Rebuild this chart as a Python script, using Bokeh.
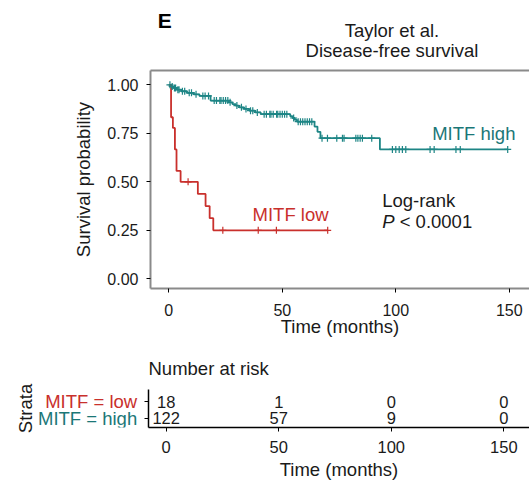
import numpy as np
from bokeh.plotting import figure
from bokeh.layouts import column, row
from bokeh.models import Range1d, LinearAxis, FixedTicker
from bokeh.core.properties import value
from bokeh.embed import file_html
from bokeh.resources import INLINE

# ---------------- data ----------------
low_time = [0, 1.0, 1.8, 2.7, 3.4, 5.2, 12.8, 16.2, 18.0, 19.6, 70.0]
low_surv = [1.0, 0.833, 0.778, 0.667, 0.556, 0.5, 0.4375, 0.375, 0.3125, 0.25, 0.25]
low_censor = [8.5, 23.8, 39.4, 47.4, 70.0]

high_time = [0, 1.0, 2.0, 3.5, 5.5, 8.0, 11.0, 13.5, 18.4, 26.5, 28.0, 29.5, 31.0,
             33.0, 35.5, 38.0, 40.5, 53.5, 54.5, 55.5, 56.5, 64.2, 65.5, 66.8, 93.0, 149.3]
high_surv = [1.0, 0.992, 0.984, 0.975, 0.967, 0.959, 0.951, 0.943, 0.919, 0.910, 0.901,
             0.893, 0.884, 0.876, 0.867, 0.858, 0.849, 0.838, 0.829, 0.820, 0.810, 0.785,
             0.758, 0.725, 0.667, 0.667]
high_censor = [0.5, 1.5, 2.5, 3, 4, 4.5, 6, 7, 9, 10, 12, 15, 16, 17.5, 20, 21, 22.5, 23,
               24, 25, 26, 27, 30, 32, 34, 36, 37, 39, 42, 43, 44.5, 45, 46, 47.5, 48, 49,
               50, 51, 52, 55, 57, 58, 59, 60, 61, 62, 63, 67.5, 69.9, 74, 76.5, 77.2,
               82.4, 83.3, 84.3, 85.3, 89.4, 98.5, 100, 101.5, 102.9, 104.4, 115.1, 116.9,
               126.5, 128.4, 149.3]

x_ticks = [0, 50, 100, 150]
y_ticks = [0.0, 0.25, 0.5, 0.75, 1.0]
y_tick_labels = ["0.00", "0.25", "0.50", "0.75", "1.00"]

risk_times = [0, 50, 100, 150]
risk_low = [18, 1, 0, 0]
risk_high = [122, 57, 9, 0]
strata_names = ["MITF = low", "MITF = high"]
strata_rows = [2, 1]

RED = "#C9302C"
TEAL = "#1D8585"
TEAL_TXT = "#1B7777"
FONT = "Liberation Sans"
TXT = "#1a1a1a"
BORDER = "#8a8a8a"
BIG = "18.5px"


def surv_at(times, surv, t):
    idx = np.searchsorted(np.array(times), np.array(t), side="right") - 1
    return np.array(surv)[idx]


def txt(p, x, y, text, color=TXT, size=BIG, align="left", style="normal",
        baseline="middle", angle=0.0):
    p.text([x], [y], text=[text], text_color=color, text_font=value(FONT),
           text_font_size=size, text_align=align, text_font_style=style,
           text_baseline=baseline, angle=angle)


def style_axis(ax, line_color, line_width, tick_size):
    ax.axis_line_color = line_color
    ax.axis_line_width = line_width
    ax.major_tick_line_color = "black"
    ax.major_tick_out = 4
    ax.major_tick_in = 0
    ax.minor_tick_line_color = None
    ax.major_label_text_font = FONT
    ax.major_label_text_font_size = tick_size
    ax.major_label_text_color = TXT
    ax.axis_label_text_font = FONT
    ax.axis_label_text_font_size = BIG
    ax.axis_label_text_font_style = "normal"
    ax.axis_label_text_color = TXT


# ---------------- header (panel letter + title) ----------------
head = figure(width=529, height=62, output_backend="svg", toolbar_location=None,
              x_range=Range1d(0, 529), y_range=Range1d(62, 0),
              x_axis_location=None, y_axis_location=None, min_border=0)
head.outline_line_color = None
head.xgrid.visible = False
head.ygrid.visible = False
txt(head, 10, 20, "E", size="21px", style="bold", color="black")
txt(head, 337, 29.5, "Taylor et al.", align="center")
txt(head, 337, 50, "Disease-free survival", align="center")

# ---------------- main KM plot ----------------
p1 = figure(width=529, height=283, output_backend="svg", toolbar_location=None,
            x_range=Range1d(-8.06, 158.9), y_range=Range1d(-0.05, 1.074),
            min_border_left=150, min_border_right=0, min_border_top=8,
            min_border_bottom=57, x_axis_label="Time (months)",
            y_axis_label="Survival probability")
p1.outline_line_color = None
p1.xgrid.visible = False
p1.ygrid.visible = False
style_axis(p1.xaxis, BORDER, 2, "16px")
style_axis(p1.yaxis, BORDER, 2, "16px")
p1.xaxis.ticker = x_ticks
p1.yaxis.ticker = y_ticks
p1.yaxis.major_label_overrides = {t: l for t, l in zip(y_ticks, y_tick_labels)}
p1.xaxis.major_label_standoff = 11
p1.yaxis.major_label_standoff = 8
p1.xaxis.axis_label_standoff = -3
p1.yaxis.axis_label_standoff = 10

top_ax = LinearAxis(ticker=FixedTicker(ticks=[]), axis_line_color=BORDER,
                    axis_line_width=2, major_tick_line_color=None, major_tick_out=0,
                    major_label_standoff=0, minor_tick_line_color=None)
p1.add_layout(top_ax, "above")

p1.step(high_time, high_surv, mode="after", line_color=TEAL, line_width=1.8)
p1.step(low_time, low_surv, mode="after", line_color=RED, line_width=1.8)
p1.scatter(high_censor, surv_at(high_time, high_surv, high_censor), marker="cross",
           size=7, line_color=TEAL, line_width=1.2)
p1.scatter(low_censor, surv_at(low_time, low_surv, low_censor), marker="cross",
           size=7, line_color=RED, line_width=1.2)

txt(p1, 152.7, 0.7515, "MITF high", color=TEAL_TXT, align="right")
txt(p1, 70.4, 0.329, "MITF low", color=RED, align="right")
txt(p1, 94.0, 0.404, "Log-rank")
txt(p1, 94.0, 0.297, "P", style="italic")
txt(p1, 101.7, 0.297, "< 0.0001")

# ---------------- risk table: strata label panel ----------------
table_y = Range1d(0.44, 2.72)
lab_fig = figure(width=139, height=139, output_backend="svg", toolbar_location=None,
                 x_range=Range1d(35, 139), y_range=table_y, x_axis_location=None,
                 min_border_left=35, min_border_right=0, min_border_top=40,
                 min_border_bottom=57, y_axis_label="Strata")
lab_fig.outline_line_color = None
lab_fig.xgrid.visible = False
lab_fig.ygrid.visible = False
style_axis(lab_fig.yaxis, None, 1, "16px")
lab_fig.yaxis.ticker = FixedTicker(ticks=[])
lab_fig.yaxis.major_tick_out = 0
lab_fig.yaxis.major_label_standoff = 0
lab_fig.yaxis.axis_label_standoff = 0
lab_fig.text([136.7] * len(strata_rows), strata_rows, text=strata_names,
             text_color=[RED, TEAL_TXT], text_align="right", text_baseline="middle",
             text_font=value(FONT), text_font_size=BIG)

# ---------------- risk table ----------------
p2 = figure(width=390, height=139, output_backend="svg", toolbar_location=None,
            x_range=Range1d(-7.86, 161.4), y_range=table_y,
            min_border_left=9, min_border_right=0, min_border_top=40,
            min_border_bottom=57, x_axis_label="Time (months)",
            title="Number at risk")
p2.outline_line_color = None
p2.xgrid.visible = False
p2.ygrid.visible = False
p2.title.text_font = FONT
p2.title.text_font_size = BIG
p2.title.text_font_style = "normal"
p2.title.text_color = TXT
p2.title.align = "left"
p2.title.standoff = 21

style_axis(p2.xaxis, "black", 1.5, "16.5px")
style_axis(p2.yaxis, "black", 1.5, "16.5px")
p2.xaxis.ticker = x_ticks
p2.xaxis.major_label_standoff = 9
p2.xaxis.axis_label_standoff = 3
p2.yaxis.ticker = strata_rows
p2.yaxis.major_label_overrides = {r: "" for r in strata_rows}
p2.yaxis.major_label_standoff = 0

p2.text(risk_times, [strata_rows[0]] * len(risk_times), text=[str(v) for v in risk_low],
        text_align="center", text_baseline="middle", text_font=value(FONT),
        text_font_size="16.5px", text_color=TXT)
p2.text(risk_times, [strata_rows[1]] * len(risk_times), text=[str(v) for v in risk_high],
        text_align="center", text_baseline="middle", text_font=value(FONT),
        text_font_size="16.5px", text_color=TXT)

layout = column(head, p1, row(lab_fig, p2))
open("out.html", "w").write(file_html(layout, INLINE))
